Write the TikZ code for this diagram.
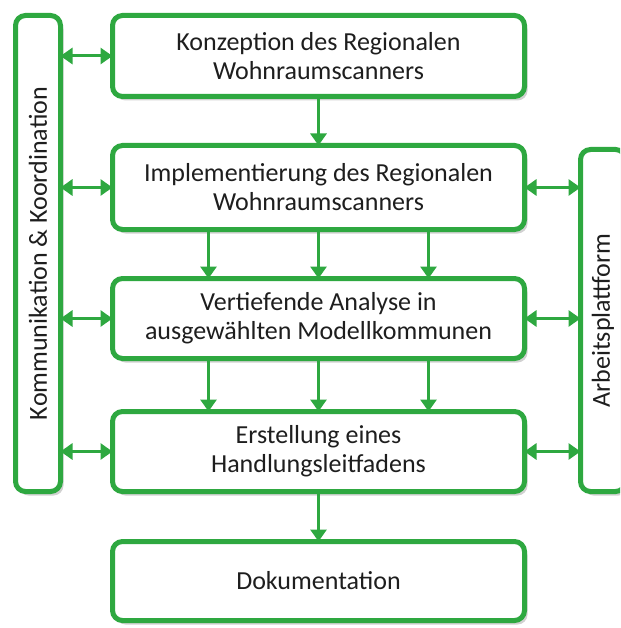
\documentclass[tikz,border=0pt]{standalone}
\usepackage{fontspec}
\setmainfont{Carlito}
\usetikzlibrary{arrows.meta,shadows}
\definecolor{leaf}{RGB}{46,168,64}
\definecolor{ink}{RGB}{30,30,30}
\begin{document}
\begin{tikzpicture}[x=1pt,y=-1pt,
  frame/.style={draw=leaf, line width=5pt, rounded corners=10pt, fill=white,
    drop shadow={shadow xshift=3pt, shadow yshift=-4pt, opacity=0.18, fill=black},
    inner sep=0pt, outer sep=0pt, text=ink, align=center, font=\fontsize{26}{29}\selectfont},
  stepbox/.style={frame, minimum width=412pt},
  tip/.tip={Triangle[length=12pt,width=16pt]},
  link/.style={draw=leaf, line width=3pt, -tip},
  dlink/.style={draw=leaf, line width=3pt, tip-tip}]
\useasboundingbox (0,0) rectangle (620,628);
\clip (0,0) rectangle (620,628);

% side bars
\node[frame, minimum width=45pt, minimum height=476pt] (lbar) at (38,253.5)
  {\rotatebox{90}{Kommunikation \& Koordination}};
\node[frame, minimum width=45pt, minimum height=342pt] (rbar) at (603,320.5)
  {\rotatebox{90}{Arbeitsplattform}};

% process steps
\node[stepbox, minimum height=81pt] (b1) at (318.5,56) {Konzeption des Regionalen\\Wohnraumscanners};
\node[stepbox, minimum height=84pt] (b2) at (318.5,187.5) {Implementierung des Regionalen\\Wohnraumscanners};
\node[stepbox, minimum height=80pt] (b3) at (318.5,318.5) {Vertiefende Analyse in\\ausgewählten Modellkommunen};
\node[stepbox, minimum height=80pt] (b4) at (318.5,451.5) {Erstellung eines\\Handlungsleitfadens};
\node[stepbox, minimum height=79pt] (b5) at (318.5,581) {Dokumentation};

% flow between steps
\draw[link] (b1.south) -- (b2.north);
\foreach \dx in {-110,0,110}{
  \draw[link] ([xshift=\dx pt]b2.south) -- ([xshift=\dx pt]b3.north);
  \draw[link] ([xshift=\dx pt]b3.south) -- ([xshift=\dx pt]b4.north);
}
\draw[link] (b4.south) -- (b5.north);

% exchange with the side bars
\foreach \b in {b1,b2,b3,b4}{
  \draw[dlink] (lbar.east |- \b.west) -- (\b.west);
}
\foreach \b in {b2,b3,b4}{
  \draw[dlink] (\b.east) -- (rbar.west |- \b.east);
}
\end{tikzpicture}
\end{document}
